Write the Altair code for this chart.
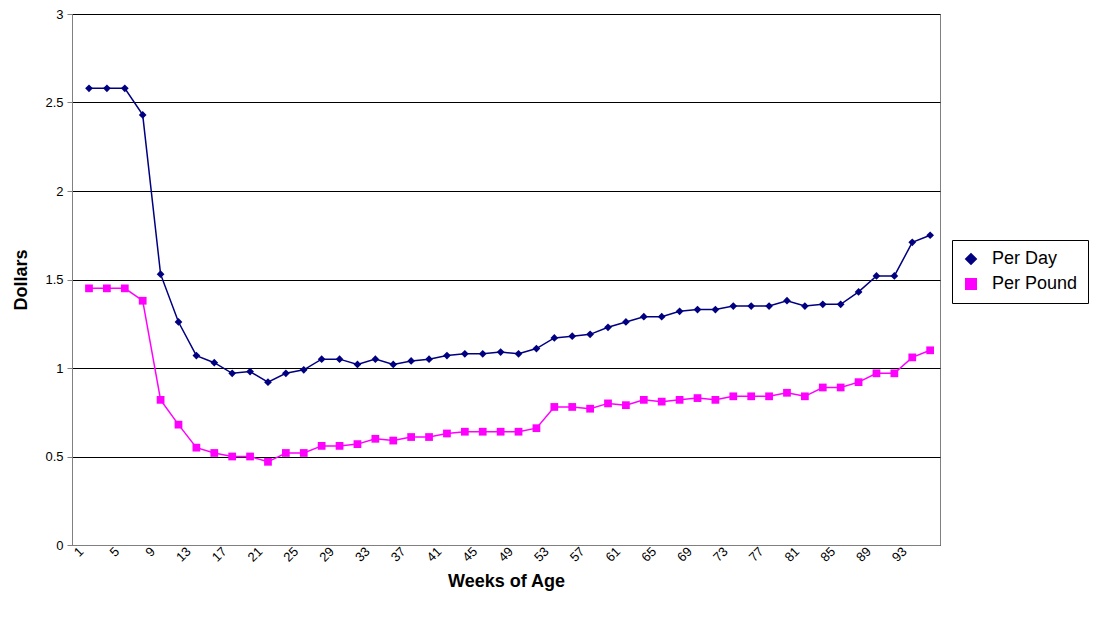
import altair as alt
import pandas as pd

weeks = list(range(1, 96, 2))
per_day = [2.58, 2.58, 2.58, 2.43, 1.53, 1.26, 1.07, 1.03, 0.97, 0.98, 0.92, 0.97,
           0.99, 1.05, 1.05, 1.02, 1.05, 1.02, 1.04, 1.05, 1.07, 1.08, 1.08, 1.09,
           1.08, 1.11, 1.17, 1.18, 1.19, 1.23, 1.26, 1.29, 1.29, 1.32, 1.33, 1.33,
           1.35, 1.35, 1.35, 1.38, 1.35, 1.36, 1.36, 1.43, 1.52, 1.52, 1.71, 1.75]
per_pound = [1.45, 1.45, 1.45, 1.38, 0.82, 0.68, 0.55, 0.52, 0.50, 0.50, 0.47, 0.52,
             0.52, 0.56, 0.56, 0.57, 0.60, 0.59, 0.61, 0.61, 0.63, 0.64, 0.64, 0.64,
             0.64, 0.66, 0.78, 0.78, 0.77, 0.80, 0.79, 0.82, 0.81, 0.82, 0.83, 0.82,
             0.84, 0.84, 0.84, 0.86, 0.84, 0.89, 0.89, 0.92, 0.97, 0.97, 1.06, 1.10]
week_labels = list(range(1, 94, 4))
series = ["Per Day", "Per Pound"]

df = pd.concat([
    pd.DataFrame({"week": weeks, "value": per_day, "series": series[0]}),
    pd.DataFrame({"week": weeks, "value": per_pound, "series": series[1]}),
])

color = alt.Color(
    "series:N",
    scale=alt.Scale(domain=series, range=["#000080", "#FF00FF"]),
    legend=alt.Legend(
        title=None, orient="none", legendX=880, legendY=226,
        labelFontSize=18, labelFont="Liberation Sans", symbolSize=110,
        strokeColor="black", padding=10, rowPadding=7, labelOffset=12,
    ),
)
shape = alt.Shape(
    "series:N",
    scale=alt.Scale(domain=series, range=["diamond", "square"]),
    legend=None,
)

x = alt.X(
    "week:Q",
    scale=alt.Scale(domain=[-0.9, 96.1], nice=False, zero=False),
    axis=alt.Axis(
        title="Weeks of Age", titleFontSize=18, titleFont="Liberation Sans",
        titleFontWeight="bold", titlePadding=8,
        values=week_labels, format="d", grid=False,
        labelAngle=-45, labelAlign="right", labelBaseline="middle",
        labelFontSize=13, labelFont="Liberation Sans", labelColor="black",
        labelOffset=-8, ticks=False, domainColor="#808080", labelOverlap=False,
        labelFlush=False,
    ),
)
y = alt.Y(
    "value:Q",
    scale=alt.Scale(domain=[0, 3]),
    axis=alt.Axis(
        title="Dollars", titleFontSize=18, titleFont="Liberation Sans",
        titleFontWeight="bold", titlePadding=14,
        values=[0, 0.5, 1, 1.5, 2, 2.5, 3], format="",
        labelFontSize=13, labelFont="Liberation Sans", labelColor="black",
        gridColor="black", gridWidth=1, tickColor="#808080", domainColor="#808080",
    ),
)

base = alt.Chart(df).encode(x=x, y=y, color=color)
lines = base.mark_line(strokeWidth=1.5)
points = base.mark_point(filled=True, size=60, opacity=1).encode(shape=shape)

chart = (lines + points).properties(
    width=868, height=531,
    autosize=alt.AutoSizeParams(type="none"),
    padding={"left": 64, "top": 6, "right": 170, "bottom": 74},
).configure_view(stroke="#808080").configure_axis(labelPadding=4)

chart.save("out.html", embed_options={"renderer": "svg", "actions": False})
